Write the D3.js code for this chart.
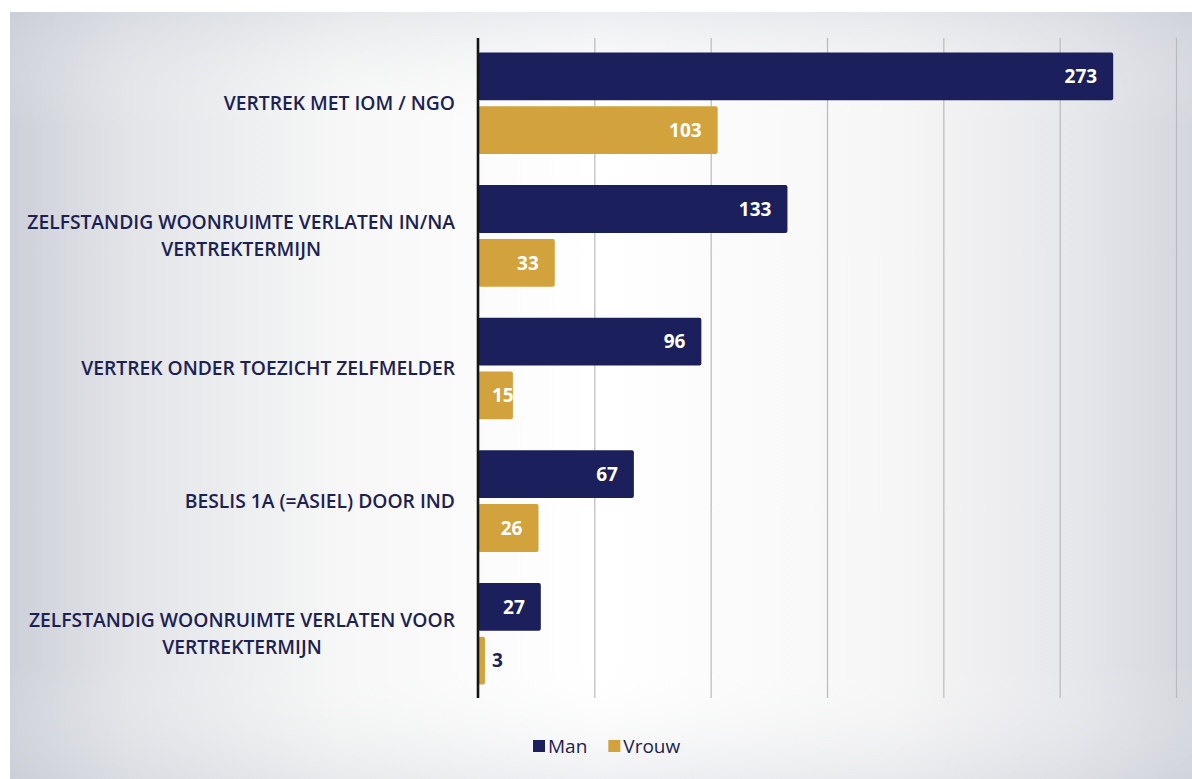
<!DOCTYPE html>
<html>
<head>
<meta charset="utf-8">
<script src="https://cdn.jsdelivr.net/npm/d3@7"></script>
<style>
  html, body { margin: 0; padding: 0; background: #ffffff; }
  svg { display: block; }
</style>
</head>
<body>
<svg id="chart" width="1192" height="779"></svg>
<script>
// Vertrekredenen per geslacht
const categories = [
  ["VERTREK MET IOM / NGO"],
  ["ZELFSTANDIG WOONRUIMTE VERLATEN IN/NA", "VERTREKTERMIJN"],
  ["VERTREK ONDER TOEZICHT ZELFMELDER"],
  ["BESLIS 1A (=ASIEL) DOOR IND"],
  ["ZELFSTANDIG WOONRUIMTE VERLATEN VOOR", "VERTREKTERMIJN"]
];
const seriesNames = ["Man", "Vrouw"];
const manValues = [273, 133, 96, 67, 27];
const vrouwValues = [103, 33, 15, 26, 3];
const xTicks = [0, 50, 100, 150, 200, 250, 300];

const colors = { Man: "#1b1f5b", Vrouw: "#d2a23c" };
const textColor = "#1c2152";
const fontFamily = "'Open Sans', 'Noto Sans', sans-serif";

const svg = d3.select("#chart");
const W = 1192, H = 779;

// Backdrop: soft grey panel that brightens toward the middle
const defs = svg.append("defs");
const grad = defs.append("linearGradient").attr("id", "panelGrad")
  .attr("x1", "0%").attr("x2", "100%").attr("y1", "0%").attr("y2", "0%");
[[0, "#cdd0d8"], [0.1, "#e2e4e8"], [0.28, "#f6f7f6"], [0.5, "#ffffff"],
 [0.75, "#f6f6f6"], [0.9, "#e6e7eb"], [1, "#d4d6dd"]]
  .forEach(([o, c]) => grad.append("stop").attr("offset", o).attr("stop-color", c));
const vgrad = defs.append("linearGradient").attr("id", "panelShade")
  .attr("x1", "0%").attr("x2", "0%").attr("y1", "0%").attr("y2", "100%");
[[0, "#c8ccd6", 0.35], [0.15, "#ffffff", 0], [0.85, "#ffffff", 0], [1, "#c8ccd6", 0.3]]
  .forEach(([o, c, a]) => vgrad.append("stop").attr("offset", o).attr("stop-color", c).attr("stop-opacity", a));

svg.append("rect").attr("x", 0).attr("y", 0).attr("width", W).attr("height", H).attr("fill", "#ffffff");
svg.append("rect").attr("x", 10).attr("y", 12).attr("width", W - 10).attr("height", H - 12).attr("fill", "url(#panelGrad)");
svg.append("rect").attr("x", 10).attr("y", 12).attr("width", W - 10).attr("height", H - 12).attr("fill", "url(#panelShade)");

// Scales
const plotLeft = 478, plotRight = 1176, plotTop = 37, plotBottom = 700;
const x = d3.scaleLinear().domain([0, 300]).range([plotLeft, plotRight]);
const y = d3.scaleBand().domain(d3.range(categories.length)).range([plotTop, plotBottom]).padding(0);
const groupPad = y.step() * 0.117;
const ySub = d3.scaleBand().domain(seriesNames)
  .range([groupPad, y.step() - groupPad]).paddingInner(0.111).paddingOuter(0);

// Vertical gridlines
const grid = svg.append("g").attr("transform", `translate(0,${plotBottom - 2})`)
  .call(d3.axisBottom(x).tickValues(xTicks.slice(1)).tickSize(-(plotBottom - plotTop - 3)).tickFormat(""));
grid.select(".domain").remove();
grid.selectAll(".tick line").attr("stroke", "#b9babd").attr("stroke-width", 1.2);

// Bars
const rows = categories.map((c, i) => ({
  i,
  values: [{ s: "Man", v: manValues[i] }, { s: "Vrouw", v: vrouwValues[i] }]
}));

const groups = svg.append("g").selectAll("g").data(rows).join("g")
  .attr("transform", d => `translate(0,${y(d.i)})`);

groups.selectAll("rect").data(d => d.values.map(v => ({ ...v, i: d.i }))).join("rect")
  .attr("x", x(0))
  .attr("y", d => ySub(d.s))
  .attr("width", d => x(d.v) - x(0))
  .attr("height", ySub.bandwidth())
  .attr("rx", 2)
  .attr("fill", d => colors[d.s]);

// Clip paths so labels stay inside their bars
rows.forEach(d => {
  d.values.forEach(v => {
    defs.append("clipPath").attr("id", `clip-${d.i}-${v.s}`)
      .append("rect")
      .attr("x", x(0)).attr("y", ySub(v.s))
      .attr("width", x(v.v) - x(0)).attr("height", ySub.bandwidth());
  });
});

// Value labels
const labelFont = 19;
groups.each(function (d) {
  const g = d3.select(this);
  d.values.forEach(v => {
    const barW = x(v.v) - x(0);
    const cy = ySub(v.s) + ySub.bandwidth() / 2;
    if (barW < 20) {
      g.append("text")
        .attr("x", x(v.v) + 7).attr("y", cy)
        .attr("dy", "0.36em")
        .attr("font-family", fontFamily).attr("font-weight", 700)
        .attr("font-size", labelFont).attr("fill", textColor)
        .text(v.v);
    } else {
      const t = g.append("text")
        .attr("y", cy).attr("dy", "0.36em")
        .attr("font-family", fontFamily).attr("font-weight", 700)
        .attr("font-size", labelFont).attr("fill", "#ffffff")
        .attr("clip-path", `url(#clip-${d.i}-${v.s})`)
        .text(v.v);
      const tw = t.node().getComputedTextLength();
      const endX = x(v.v) - 16;
      t.attr("x", Math.max(endX - tw, x(0) + 14));
    }
  });
});

// Category labels: block right-aligned to the axis, lines centred within it
const catLayer = svg.append("g");
const lineGap = 27;
const probe = catLayer.append("text").attr("font-family", fontFamily).attr("font-size", 20)
  .attr("font-weight", 600).text(categories[1][0]);
const catFont = 20 * 428 / probe.node().getComputedTextLength();
probe.remove();
categories.forEach((lines, i) => {
  const cy = y(i) + y.step() / 2;
  const texts = lines.map((ln, j) => catLayer.append("text")
    .attr("font-family", fontFamily).attr("font-size", catFont).attr("font-weight", 600)
    .attr("fill", textColor).attr("text-anchor", "middle")
    .attr("y", cy + (j - (lines.length - 1) / 2) * lineGap)
    .attr("dy", "0.36em")
    .text(ln));
  const maxW = d3.max(texts, t => t.node().getComputedTextLength());
  texts.forEach(t => t.attr("x", 455 - maxW / 2));
});

// Category axis line
svg.append("line")
  .attr("x1", x(0)).attr("x2", x(0))
  .attr("y1", plotTop + 1).attr("y2", plotBottom - 2)
  .attr("stroke", "#141414").attr("stroke-width", 2.6);

// Legend
const legend = svg.append("g").attr("transform", "translate(0,746)");
let lx = 533;
seriesNames.forEach(s => {
  legend.append("rect").attr("x", lx).attr("y", -6).attr("width", 12).attr("height", 12)
    .attr("fill", colors[s]);
  const t = legend.append("text").attr("x", lx + 15).attr("y", 0).attr("dy", "0.36em")
    .attr("font-family", fontFamily).attr("font-size", 19).attr("font-weight", 500)
    .attr("fill", textColor).text(s);
  lx += 15 + t.node().getComputedTextLength() + 21;
});
</script>
</body>
</html>
